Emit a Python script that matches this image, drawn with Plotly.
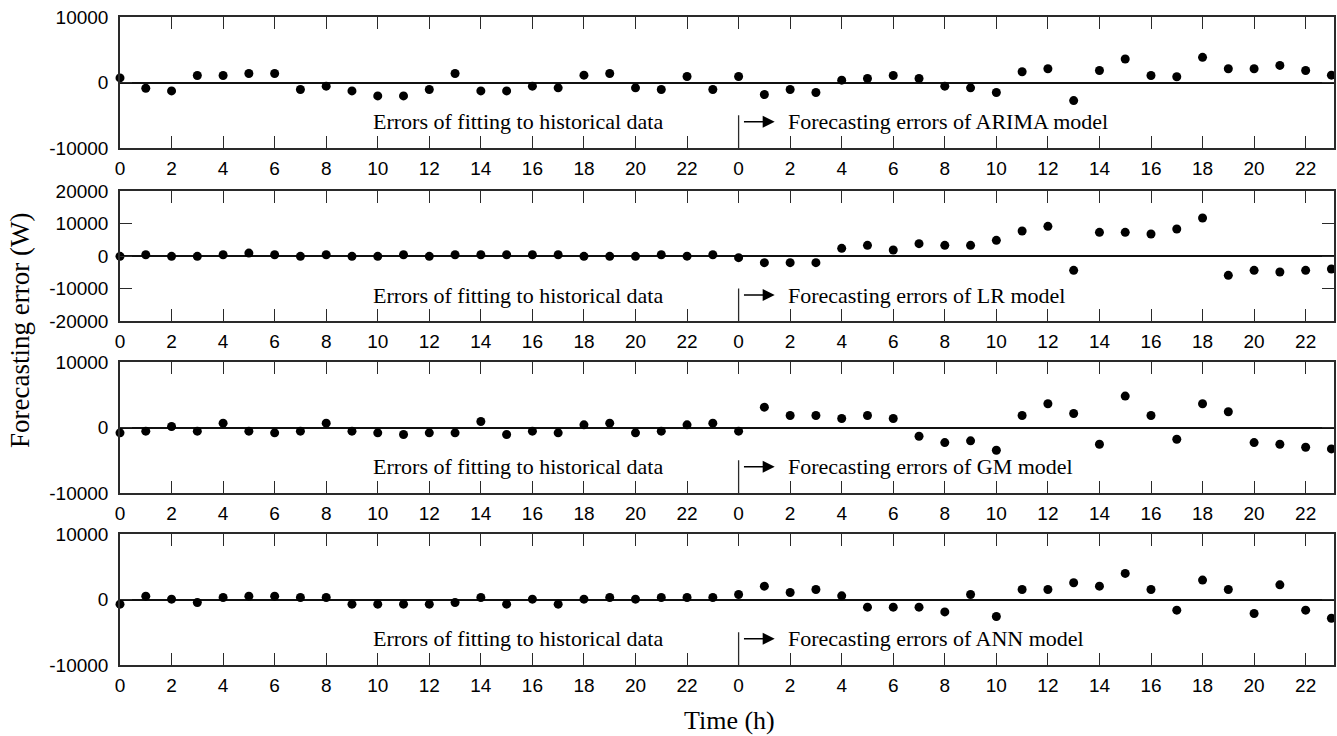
import plotly.graph_objects as go

# ---------------- data ----------------
hours = list(range(48))  # 0..23 historical fit, 24..47 forecast (labelled 0..23)
xtick_vals = list(range(0, 48, 2))
xtick_text = [str(v % 24) for v in xtick_vals]

arima = [700, -870, -1280, 1070, 1070, 1380, 1380, -1070, -560, -1280,
         -2050, -2050, -1070, 1380, -1280, -1280, -560, -820, 1120, 1380,
         -820, -1070, 920, -1070,
         920, -1840, -1070, -1530, 360, 610, 1070, 610, -560, -820,
         -1530, 1640, 2100, -2760, 1840, 3580, 1070, 870, 3840, 2100,
         2100, 2610, 1840, 1120]

lr = [-100, 400, -100, -100, 400, 900, 400, -100, 400, -100,
      -100, 400, -100, 400, 400, 400, 400, 400, -100, -100,
      -100, 400, -50, 400,
      -500, -2050, -2050, -2050, 2360, 3280, 1850, 3790, 3280, 3280,
      4820, 7690, 9130, -4410, 7280, 7280, 6770, 8310, 11690, -5950,
      -4410, -4920, -4410, -4000]

gm = [-820, -560, 150, -560, 660, -560, -820, -560, 660, -560,
      -820, -1070, -820, -820, 920, -1070, -560, -820, 410, 660,
      -820, -560, 410, 660,
      -560, 3110, 1840, 1840, 1380, 1840, 1380, -1330, -2300, -2040,
      -3470, 1840, 3620, 2140, -2550, 4800, 1840, -1790, 3620, 2400,
      -2300, -2550, -3010, -3270]

ann = [-710, 510, 50, -460, 300, 510, 510, 300, 300, -710,
       -710, -710, -710, -460, 300, -710, 50, -710, 50, 300,
       50, 300, 300, 300,
       770, 2040, 1070, 1530, 560, -1170, -1170, -1170, -1890, 770,
       -2600, 1530, 1530, 2550, 2040, 3980, 1530, -1630, 2960, 1530,
       -2140, 2240, -1630, -2860]

series = [arima, lr, gm, ann]
model_names = ["ARIMA", "LR", "GM", "ANN"]
y_ranges = [(-10000, 10000), (-20000, 20000), (-10000, 10000), (-10000, 10000)]
y_tickvals = [[-10000, 0, 10000],
              [-20000, -10000, 0, 10000, 20000],
              [-10000, 0, 10000],
              [-10000, 0, 10000]]
left_label = "Errors of fitting to historical data"
right_label_fmt = "Forecasting errors of {} model"
x_title = "Time (h)"
y_title = "Forecasting error (W)"

# ---------------- layout constants ----------------
W, H = 1337, 736
x_left_px, x_right_px = 120, 1334
panel_px = [(17, 148), (191, 321), (362, 493), (534, 665)]
axis_color = "#2a2a2a"
tick_font = dict(family="Liberation Sans, Arial, sans-serif", size=19, color="black")
serif = "Liberation Serif, Times New Roman, serif"

fig = go.Figure()
layout = dict(
    template="none",
    width=W, height=H,
    margin=dict(l=0, r=0, t=0, b=0, pad=0),
    paper_bgcolor="white", plot_bgcolor="white",
    showlegend=False,
)
shapes = []
annotations = []

for i, (vals, name, yr, ytv) in enumerate(zip(series, model_names, y_ranges, y_tickvals)):
    n = i + 1
    xs = "x" if n == 1 else f"x{n}"
    ys = "y" if n == 1 else f"y{n}"
    xkey = "xaxis" if n == 1 else f"xaxis{n}"
    ykey = "yaxis" if n == 1 else f"yaxis{n}"
    top, bot = panel_px[i]

    fig.add_trace(go.Scatter(
        x=hours, y=vals, mode="markers", xaxis=xs, yaxis=ys,
        marker=dict(color="black", size=9, symbol="circle", line=dict(width=0)),
        cliponaxis=False, hoverinfo="x+y",
    ))

    layout[xkey] = dict(
        domain=[x_left_px / W, x_right_px / W], anchor=ys, automargin=False,
        range=[0, 47.1], showgrid=False, zeroline=False,
        showline=True, linecolor=axis_color, linewidth=1.5, mirror="ticks",
        ticks="inside", ticklen=12, tickwidth=1.3, tickcolor=axis_color,
        tickvals=xtick_vals, ticktext=xtick_text, tickfont=tick_font,
        ticklabelstandoff=2,
    )
    layout[ykey] = dict(
        domain=[1 - bot / H, 1 - top / H], anchor=xs, automargin=False,
        range=list(yr), showgrid=False,
        zeroline=True, zerolinecolor="#111", zerolinewidth=1.5,
        showline=True, linecolor=axis_color, linewidth=1.5, mirror="ticks",
        ticks="inside", ticklen=12, tickwidth=1.3, tickcolor=axis_color,
        tickvals=ytv, ticktext=[str(v) for v in ytv], tickfont=tick_font,
        ticklabelstandoff=6,
    )

    ylo, yhi = yr
    span = yhi - ylo
    # separator line between historical and forecast parts
    shapes.append(dict(type="line", xref=xs, yref=ys, x0=24, x1=24,
                       y0=ylo, y1=ylo + 0.25 * span,
                       line=dict(color=axis_color, width=1.3)))
    ytext = ylo + 0.2 * span
    annotations.append(dict(xref=xs, yref=ys, x=21.15, y=ytext, text=left_label,
                            showarrow=False, xanchor="right", yanchor="middle",
                            font=dict(family=serif, size=22, color="black")))
    annotations.append(dict(xref=xs, yref=ys, x=25.85, y=ytext,
                            text=right_label_fmt.format(name),
                            showarrow=False, xanchor="left", yanchor="middle",
                            font=dict(family=serif, size=22, color="black")))
    annotations.append(dict(xref=xs, yref=ys, x=25.4, y=ytext, text="",
                            showarrow=True, axref=xs, ayref=ys, ax=24.15, ay=ytext,
                            arrowhead=2, arrowsize=1.5, arrowwidth=1.6,
                            arrowcolor="black", standoff=0, startstandoff=0))

annotations.append(dict(xref="paper", yref="paper", x=20 / W, y=1 - 331 / H,
                        text=y_title, textangle=-90, showarrow=False,
                        xanchor="center", yanchor="middle",
                        font=dict(family=serif, size=27, color="black")))
annotations.append(dict(xref="paper", yref="paper", x=729.5 / W, y=1 - 720 / H,
                        text=x_title, showarrow=False,
                        xanchor="center", yanchor="middle",
                        font=dict(family=serif, size=26, color="black")))

layout["shapes"] = shapes
layout["annotations"] = annotations
fig.update_layout(**layout)
fig.write_html("out.html", config={"displayModeBar": False},
               post_script="document.body.style.margin='0';")
